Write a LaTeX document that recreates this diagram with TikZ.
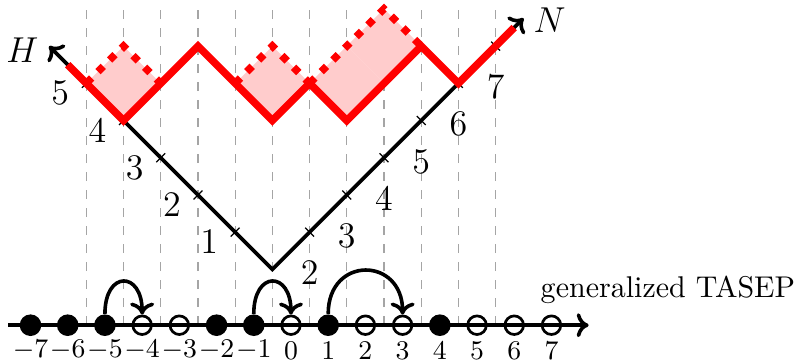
\documentclass[tikz,border=0pt]{standalone}
\usepackage{amsmath,amssymb}
\usepackage{tikz}
\usetikzlibrary{arrows.meta,positioning,calc}
\definecolor{heightred}{RGB}{255,0,0}
\definecolor{flipfill}{RGB}{255,204,204}
\definecolor{gridgrey}{RGB}{165,165,165}

\begin{document}
\begin{tikzpicture}[x=12.4pt, y=12.4pt,
  gridline/.style={dashed, gridgrey, line width=0.4pt},
  arm/.style={line width=1.2pt},
  armtick/.style={line width=0.4pt},
  height/.style={heightred, line width=2.5pt},
  flip/.style={heightred, line width=2.5pt, dash pattern=on 2.5pt off 3pt},
  full/.style={circle, fill=black, inner sep=0pt, minimum size=7.2pt},
  empty/.style={circle, draw=black, line width=0.9pt, inner sep=0pt, minimum size=6.2pt},
  jump/.style={line width=1.2pt, -{To[length=4pt, width=8pt]}}]
\useasboundingbox (-7.82,-0.94) rectangle (13.68,8.74);
% sites
\foreach \x in {-5.5,-4.5,...,5.5}
  \draw[gridline] (\x,0) -- (\x,8.5);
% added squares
\foreach \cx/\cy in {-4.5/6.5, -0.5/6.5, 1.5/6.5, 2.5/7.5}
  \fill[flipfill] (\cx-1,\cy) -- ++(1,1) -- ++(1,-1) -- ++(-1,-1) -- cycle;
% height axes
\coordinate (o) at (-0.5,1.5);
\coordinate (hend) at (-6.5,7.5);
\coordinate (nend) at (6.25,8.25);
\draw[arm, {To[length=4pt, width=8pt]}-{To[length=4pt, width=8pt]}] (hend) -- (o) -- (nend);
\foreach \k in {1,...,5}
  \draw[armtick] ($(o)+(-\k,\k)+(-0.12,-0.12)$) -- ++(0.24,0.24);
\foreach \k in {1,...,6}
  \draw[armtick] ($(o)+(\k,\k)+(-0.12,0.12)$) -- ++(0.24,-0.24);
\foreach \k in {1,...,5}
  \node[font=\large] (hl\k) at (-1.2-\k,1.23+\k) {$\k$};
\foreach \m in {2,...,7}
  \node[font=\large] (nl\m) at (\m-1.5,\m-0.6) {$\m$};
\node[font=\large] (hlab) at (-7.22,7.4) {$H$};
\node[font=\large] (nlab) at (6.95,8.2) {$N$};
% interface
\draw[height] (-6,7) -- (-4.5,5.5) -- (-2.5,7.5) -- (-0.5,5.5) -- (0.5,6.5)
  -- (1.5,5.5) -- (3.5,7.5) -- (4.5,6.5) -- (6,8);
\draw[flip] (-5.5,6.5) -- (-4.5,7.5) -- (-3.5,6.5);
\draw[flip] (-1.5,6.5) -- (-0.5,7.5) -- (0.5,6.5);
\draw[flip] (0.5,6.5) -- (2.5,8.5) -- (3.5,7.5);
% particles
\coordinate (axl) at (-7.6,0);
\coordinate (axr) at (8,0);
\draw[line width=1.2pt, -{To[length=4pt, width=8pt]}] (axl) -- (axr);
\foreach \i in {-7,-6,-5,-2,-1,1,4}
  \node[full] (s\i) at (\i,0) {};
\foreach \i in {-4,-3,0,2,3,5,6,7}
  \node[empty] (s\i) at (\i,0) {};
\foreach \i in {-7,...,7}
  \node[font=\small] (n\i) at (\i,-0.68) {$\i$};
\draw[jump] (s-5.north) to[out=90, in=90, looseness=3] (s-4.north);
\draw[jump] (s-1.north) to[out=90, in=90, looseness=3] (s0.north);
\draw[jump] (s1.north) to[out=90, in=90, looseness=2] (s3.north);
\node (tasep) at (10.13,0.94) {generalized TASEP};
\end{tikzpicture}
\end{document}
